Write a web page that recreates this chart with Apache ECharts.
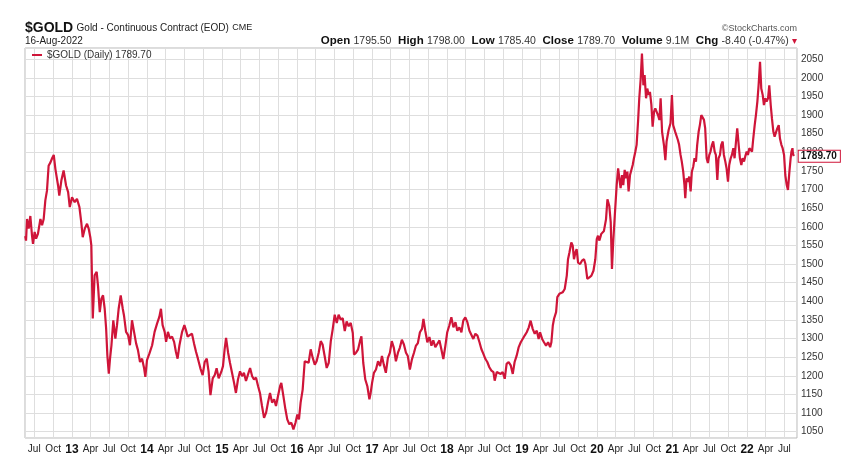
<!DOCTYPE html>
<html>
<head>
<meta charset="utf-8">
<script src="https://cdn.jsdelivr.net/npm/echarts@6/dist/echarts.min.js"></script>
<style>
  html, body { margin: 0; padding: 0; background: #fff; }
  #chart { width: 845px; height: 475px; }
</style>
</head>
<body>
<div id="chart"></div>
<script>
// $GOLD closes, roughly every week or two
const gold2012 = [
  ['2012-05-18', 1575], ['2012-05-22', 1563], ['2012-05-27', 1621], ['2012-06-04', 1595], ['2012-06-12', 1629],
  ['2012-06-20', 1577], ['2012-06-25', 1554], ['2012-07-03', 1586], ['2012-07-10', 1568], ['2012-07-19', 1581],
  ['2012-07-31', 1621], ['2012-08-08', 1604], ['2012-08-16', 1621], ['2012-08-24', 1671], ['2012-09-01', 1697],
  ['2012-09-09', 1764], ['2012-09-18', 1773], ['2012-09-26', 1784], ['2012-10-04', 1793], ['2012-10-12', 1755],
  ['2012-10-25', 1711], ['2012-10-31', 1684], ['2012-11-10', 1724], ['2012-11-21', 1751], ['2012-12-03', 1711],
  ['2012-12-13', 1693], ['2012-12-21', 1653]
];
const gold2013 = [
  ['2013-01-01', 1679], ['2013-01-14', 1666], ['2013-01-25', 1675], ['2013-02-06', 1653], ['2013-02-15', 1612],
  ['2013-02-22', 1572], ['2013-03-04', 1595], ['2013-03-15', 1608], ['2013-03-23', 1595], ['2013-03-31', 1572],
  ['2013-04-05', 1550], ['2013-04-12', 1354], ['2013-04-21', 1470], ['2013-05-01', 1479], ['2013-05-08', 1438],
  ['2013-05-16', 1371], ['2013-05-24', 1407], ['2013-06-01', 1416], ['2013-06-09', 1380], ['2013-06-16', 1327],
  ['2013-06-22', 1255], ['2013-06-29', 1206], ['2013-07-05', 1246], ['2013-07-12', 1282], ['2013-07-21', 1349],
  ['2013-07-31', 1300], ['2013-08-08', 1336], ['2013-08-16', 1380], ['2013-08-26', 1416], ['2013-09-05', 1380],
  ['2013-09-11', 1362], ['2013-09-21', 1318], ['2013-10-01', 1309], ['2013-10-10', 1282], ['2013-10-20', 1349],
  ['2013-10-30', 1318], ['2013-11-09', 1287], ['2013-11-18', 1269], ['2013-11-28', 1237], ['2013-12-08', 1246],
  ['2013-12-18', 1220], ['2013-12-24', 1197]
];
const gold2014 = [
  ['2014-01-01', 1242], ['2014-01-13', 1260], ['2014-01-26', 1282], ['2014-02-07', 1318], ['2014-02-19', 1340],
  ['2014-03-02', 1358], ['2014-03-10', 1380], ['2014-03-18', 1336], ['2014-03-28', 1318], ['2014-04-04', 1291],
  ['2014-04-13', 1318], ['2014-04-23', 1300], ['2014-05-03', 1305], ['2014-05-13', 1291], ['2014-05-22', 1264],
  ['2014-05-30', 1246], ['2014-06-08', 1282], ['2014-06-21', 1318], ['2014-07-02', 1336], ['2014-07-10', 1322],
  ['2014-07-18', 1305], ['2014-07-28', 1309], ['2014-08-08', 1313], ['2014-08-18', 1287], ['2014-08-28', 1264],
  ['2014-09-06', 1246], ['2014-09-18', 1220], ['2014-09-29', 1202], ['2014-10-09', 1237], ['2014-10-19', 1246],
  ['2014-10-28', 1211], ['2014-11-06', 1148], ['2014-11-17', 1193], ['2014-11-27', 1202], ['2014-12-06', 1220],
  ['2014-12-16', 1193], ['2014-12-29', 1211]
];
const gold2015 = [
  ['2015-01-06', 1226], ['2015-01-14', 1271], ['2015-01-21', 1302], ['2015-01-31', 1262], ['2015-02-09', 1235],
  ['2015-02-19', 1208], ['2015-03-01', 1181], ['2015-03-10', 1154], ['2015-03-20', 1190], ['2015-03-30', 1212],
  ['2015-04-09', 1199], ['2015-04-18', 1208], ['2015-04-28', 1186], ['2015-05-08', 1204], ['2015-05-18', 1221],
  ['2015-05-28', 1199], ['2015-06-06', 1190], ['2015-06-16', 1195], ['2015-06-26', 1172], ['2015-07-05', 1154],
  ['2015-07-15', 1119], ['2015-07-25', 1087], ['2015-08-04', 1101], ['2015-08-13', 1128], ['2015-08-23', 1154],
  ['2015-09-02', 1128], ['2015-09-12', 1137], ['2015-09-21', 1119], ['2015-10-01', 1146], ['2015-10-11', 1172],
  ['2015-10-17', 1181], ['2015-10-27', 1146], ['2015-11-06', 1110], ['2015-11-15', 1083], ['2015-11-25', 1070],
  ['2015-12-05', 1074], ['2015-12-15', 1056], ['2015-12-25', 1074]
];
const gold2016 = [
  ['2016-01-03', 1096], ['2016-01-11', 1083], ['2016-01-19', 1128], ['2016-01-29', 1163], ['2016-02-08', 1239],
  ['2016-02-17', 1244], ['2016-02-27', 1235], ['2016-03-08', 1271], ['2016-03-18', 1248], ['2016-03-28', 1230],
  ['2016-04-06', 1239], ['2016-04-16', 1262], ['2016-04-26', 1293], ['2016-05-05', 1284], ['2016-05-15', 1253],
  ['2016-05-25', 1221], ['2016-06-04', 1235], ['2016-06-14', 1293], ['2016-06-23', 1324], ['2016-07-03', 1364],
  ['2016-07-13', 1342], ['2016-07-22', 1364], ['2016-08-01', 1351], ['2016-08-11', 1355], ['2016-08-21', 1320],
  ['2016-08-30', 1346], ['2016-09-09', 1333], ['2016-09-19', 1342], ['2016-09-29', 1315], ['2016-10-05', 1257],
  ['2016-10-15', 1262], ['2016-10-25', 1271], ['2016-11-03', 1293], ['2016-11-10', 1306], ['2016-11-19', 1235],
  ['2016-11-29', 1190], ['2016-12-09', 1172], ['2016-12-19', 1137], ['2016-12-25', 1154]
];
const gold2017 = [
  ['2017-01-01', 1181], ['2017-01-10', 1208], ['2017-01-20', 1217], ['2017-01-30', 1239], ['2017-02-09', 1226],
  ['2017-02-18', 1253], ['2017-02-27', 1230], ['2017-03-09', 1208], ['2017-03-19', 1248], ['2017-03-29', 1262],
  ['2017-04-07', 1293], ['2017-04-17', 1275], ['2017-04-27', 1239], ['2017-05-07', 1262], ['2017-05-16', 1275],
  ['2017-05-26', 1297], ['2017-06-05', 1284], ['2017-06-15', 1262], ['2017-06-24', 1253], ['2017-07-04', 1217],
  ['2017-07-14', 1244], ['2017-07-24', 1262], ['2017-08-02', 1280], ['2017-08-12', 1288], ['2017-08-22', 1317],
  ['2017-09-01', 1326], ['2017-09-08', 1353], ['2017-09-17', 1321], ['2017-09-27', 1290], ['2017-10-07', 1304],
  ['2017-10-17', 1281], ['2017-10-26', 1295], ['2017-11-05', 1277], ['2017-11-15', 1286], ['2017-11-25', 1295],
  ['2017-12-04', 1272], ['2017-12-14', 1245], ['2017-12-24', 1281]
];
const gold2018 = [
  ['2018-01-02', 1317], ['2018-01-12', 1335], ['2018-01-22', 1357], ['2018-02-01', 1330], ['2018-02-11', 1344],
  ['2018-02-20', 1321], ['2018-03-02', 1330], ['2018-03-12', 1317], ['2018-03-21', 1348], ['2018-03-31', 1357],
  ['2018-04-10', 1344], ['2018-04-20', 1321], ['2018-04-29', 1317], ['2018-05-09', 1299], ['2018-05-19', 1313],
  ['2018-05-29', 1308], ['2018-06-08', 1290], ['2018-06-17', 1272], ['2018-06-27', 1259], ['2018-07-07', 1245],
  ['2018-07-16', 1237], ['2018-07-26', 1223], ['2018-08-05', 1214], ['2018-08-15', 1210], ['2018-08-21', 1187],
  ['2018-08-31', 1210], ['2018-09-09', 1214], ['2018-09-19', 1205], ['2018-09-29', 1210], ['2018-10-09', 1192],
  ['2018-10-18', 1232], ['2018-10-28', 1237], ['2018-11-07', 1228], ['2018-11-17', 1205], ['2018-11-26', 1237],
  ['2018-12-06', 1254], ['2018-12-16', 1277], ['2018-12-26', 1290]
];
const gold2019 = [
  ['2019-01-04', 1295], ['2019-01-14', 1308], ['2019-01-24', 1317], ['2019-02-03', 1330], ['2019-02-12', 1348],
  ['2019-02-22', 1326], ['2019-03-04', 1313], ['2019-03-14', 1321], ['2019-03-23', 1299], ['2019-03-30', 1317],
  ['2019-04-09', 1299], ['2019-04-18', 1290], ['2019-04-28', 1281], ['2019-05-08', 1290], ['2019-05-18', 1277],
  ['2019-05-24', 1290], ['2019-05-31', 1335], ['2019-06-06', 1353], ['2019-06-16', 1371], ['2019-06-22', 1411],
  ['2019-07-02', 1420], ['2019-07-08', 1415], ['2019-07-18', 1424], ['2019-07-28', 1433], ['2019-08-07', 1469],
  ['2019-08-13', 1513], ['2019-08-20', 1531], ['2019-08-29', 1558], ['2019-09-05', 1549], ['2019-09-11', 1513],
  ['2019-09-18', 1531], ['2019-09-24', 1540], ['2019-10-01', 1504], ['2019-10-11', 1500], ['2019-10-20', 1509],
  ['2019-10-30', 1513], ['2019-11-06', 1500], ['2019-11-15', 1460], ['2019-11-25', 1464], ['2019-12-05', 1469],
  ['2019-12-15', 1482], ['2019-12-24', 1513], ['2019-12-31', 1567]
];
const gold2020 = [
  ['2020-01-06', 1576], ['2020-01-13', 1563], ['2020-01-22', 1581], ['2020-01-29', 1585], ['2020-02-04', 1589],
  ['2020-02-14', 1620], ['2020-02-21', 1674], ['2020-03-01', 1656], ['2020-03-08', 1612], ['2020-03-14', 1487],
  ['2020-03-20', 1558], ['2020-03-29', 1641], ['2020-04-06', 1712], ['2020-04-13', 1757], ['2020-04-19', 1730],
  ['2020-04-25', 1704], ['2020-05-02', 1739], ['2020-05-08', 1712], ['2020-05-15', 1753], ['2020-05-21', 1730],
  ['2020-05-28', 1748], ['2020-06-03', 1695], ['2020-06-10', 1739], ['2020-06-16', 1735], ['2020-06-23', 1766],
  ['2020-06-29', 1784], ['2020-07-06', 1802], ['2020-07-12', 1820], ['2020-07-19', 1882], ['2020-07-25', 1945],
  ['2020-08-01', 1998], ['2020-08-07', 2065], ['2020-08-14', 1980], ['2020-08-20', 2007], ['2020-08-27', 1945],
  ['2020-09-02', 1971], ['2020-09-09', 1954], ['2020-09-15', 1962], ['2020-09-22', 1927], ['2020-09-28', 1869],
  ['2020-10-05', 1909], ['2020-10-11', 1918], ['2020-10-17', 1922], ['2020-10-24', 1900], ['2020-10-31', 1887],
  ['2020-11-06', 1945], ['2020-11-13', 1855], ['2020-11-22', 1820], ['2020-11-29', 1779], ['2020-12-05', 1829],
  ['2020-12-15', 1860], ['2020-12-24', 1878], ['2020-12-31', 1954]
];
const gold2021 = [
  ['2021-01-06', 1873], ['2021-01-16', 1855], ['2021-01-22', 1860], ['2021-01-29', 1833], ['2021-02-04', 1820],
  ['2021-02-11', 1793], ['2021-02-17', 1775], ['2021-02-24', 1748], ['2021-03-02', 1712], ['2021-03-06', 1677],
  ['2021-03-12', 1730], ['2021-03-19', 1721], ['2021-03-25', 1735], ['2021-04-01', 1695], ['2021-04-07', 1748],
  ['2021-04-14', 1762], ['2021-04-20', 1784], ['2021-04-27', 1775], ['2021-05-03', 1820], ['2021-05-10', 1855],
  ['2021-05-16', 1873], ['2021-05-23', 1900], ['2021-05-29', 1904], ['2021-06-05', 1887], ['2021-06-11', 1864],
  ['2021-06-18', 1784], ['2021-06-24', 1771], ['2021-07-01', 1793], ['2021-07-07', 1802], ['2021-07-14', 1820],
  ['2021-07-20', 1829], ['2021-07-27', 1802], ['2021-08-02', 1793], ['2021-08-09', 1726], ['2021-08-15', 1784],
  ['2021-08-22', 1793], ['2021-08-28', 1820], ['2021-09-04', 1829], ['2021-09-10', 1793], ['2021-09-17', 1775],
  ['2021-09-23', 1757], ['2021-09-30', 1721], ['2021-10-06', 1766], ['2021-10-13', 1784], ['2021-10-19', 1793],
  ['2021-10-26', 1811], ['2021-11-01', 1784], ['2021-11-08', 1829], ['2021-11-14', 1864], ['2021-11-21', 1820],
  ['2021-11-27', 1784], ['2021-12-04', 1766], ['2021-12-10', 1784], ['2021-12-17', 1775], ['2021-12-23', 1789],
  ['2021-12-30', 1802]
];
const gold2022 = [
  ['2022-01-05', 1793], ['2022-01-12', 1811], ['2022-01-18', 1816], ['2022-01-25', 1802], ['2022-01-31', 1837],
  ['2022-02-07', 1873], ['2022-02-13', 1900], ['2022-02-20', 1936], ['2022-02-26', 1980], ['2022-03-05', 2043],
  ['2022-03-11', 1971], ['2022-03-18', 1954], ['2022-03-24', 1927], ['2022-03-31', 1945], ['2022-04-06', 1936],
  ['2022-04-13', 1945], ['2022-04-19', 1980], ['2022-04-26', 1927], ['2022-05-02', 1891], ['2022-05-09', 1855],
  ['2022-05-15', 1842], ['2022-05-22', 1846], ['2022-05-28', 1864], ['2022-06-04', 1873], ['2022-06-10', 1837],
  ['2022-06-17', 1820], ['2022-06-23', 1811], ['2022-06-30', 1793], ['2022-07-06', 1739], ['2022-07-13', 1712],
  ['2022-07-19', 1699], ['2022-07-26', 1748], ['2022-08-01', 1784], ['2022-08-05', 1802], ['2022-08-10', 1811],
  ['2022-08-12', 1798], ['2022-08-16', 1789.70]
];

// header quote for the last bar
const quoteLabels = ['Open', 'High', 'Low', 'Close', 'Volume', 'Chg'];
const quoteValues = ['1795.50', '1798.00', '1785.40', '1789.70', '9.1M', '-8.40 (-0.47%)'];

const goldDaily = [].concat(gold2012, gold2013, gold2014, gold2015, gold2016, gold2017,
  gold2018, gold2019, gold2020, gold2021, gold2022);

const RED = '#cf1539';
const FONT = '"Liberation Sans", Arial, sans-serif';

const quoteText = quoteLabels.map(function (l, i) {
  return '{k|' + l + '} {v|' + quoteValues[i] + '}';
}).join('  ') + ' {arr|▾}';

const chart = echarts.init(document.getElementById('chart'));

const option = {
  backgroundColor: '#fff',
  animation: false,
  textStyle: { fontFamily: FONT },
  grid: {
    left: 25, right: 48, top: 48, bottom: 37,
    show: true, borderColor: '#b9b9b9', borderWidth: 1
  },
  legend: {
    left: 27, top: 45,
    icon: 'rect', itemWidth: 10, itemHeight: 2, itemGap: 4,
    textStyle: { fontSize: 10, color: '#333', fontFamily: FONT }
  },
  xAxis: {
    type: 'time',
    min: '2012-05-17',
    max: '2022-09-01',
    splitNumber: 31,
    axisLine: { show: false },
    axisTick: { show: false },
    splitLine: { show: true, lineStyle: { color: '#dedede', width: 1 } },
    axisLabel: {
      color: '#222', fontSize: 10, margin: 6, fontFamily: FONT,
      hideOverlap: false,
      formatter: { year: '{yr|{yy}}', month: '{MMM}' },
      rich: { yr: { fontWeight: 'bold', fontSize: 12, color: '#111', fontFamily: FONT } }
    }
  },
  yAxis: {
    type: 'value',
    position: 'right',
    min: 1033,
    max: 2080,
    splitNumber: 21,
    axisLine: { show: false },
    axisTick: { show: false },
    splitLine: { show: true, lineStyle: { color: '#dedede', width: 1 } },
    axisLabel: {
      color: '#333', fontSize: 10, margin: 4, fontFamily: FONT,
      showMinLabel: false, showMaxLabel: false,
      formatter: function (v) { return v % 50 === 0 ? String(v) : ''; }
    }
  },
  series: [{
    name: '$GOLD (Daily) 1789.70',
    type: 'line',
    data: goldDaily,
    showSymbol: false,
    color: RED,
    lineStyle: { color: RED, width: 2.2 },
    endLabel: {
      show: true,
      distance: 5,
      formatter: function (p) { return p.value[1].toFixed(2); },
      fontSize: 10, fontWeight: 'bold', color: '#111', fontFamily: FONT,
      backgroundColor: '#fff', borderColor: RED, borderWidth: 1,
      padding: [1, 3, 0, 2]
    }
  }],
  graphic: [
    {
      type: 'text', left: 25, top: 21,
      style: {
        text: '{t|$GOLD} {s|Gold - Continuous Contract (EOD)} {c|CME}',
        rich: {
          t: { fontSize: 14, fontWeight: 'bold', fill: '#111', fontFamily: FONT },
          s: { fontSize: 10, fill: '#222', fontFamily: FONT },
          c: { fontSize: 9, fill: '#222', fontFamily: FONT }
        }
      }
    },
    {
      type: 'text', left: 25, top: 36,
      style: { text: '16-Aug-2022', fontSize: 10, fill: '#222', fontFamily: FONT }
    },
    {
      type: 'text', right: 48, top: 24,
      style: { text: '©StockCharts.com', fontSize: 9, fill: '#555', fontFamily: FONT }
    },
    {
      type: 'text', right: 48, top: 35,
      style: {
        text: quoteText,
        rich: {
          k: { fontSize: 11.5, fontWeight: 'bold', fill: '#111', fontFamily: FONT },
          v: { fontSize: 10.5, fill: '#333', fontFamily: FONT },
          arr: { fontSize: 10, fill: RED, fontFamily: FONT }
        }
      }
    }
  ]
};

chart.setOption(option);
</script>
</body>
</html>
